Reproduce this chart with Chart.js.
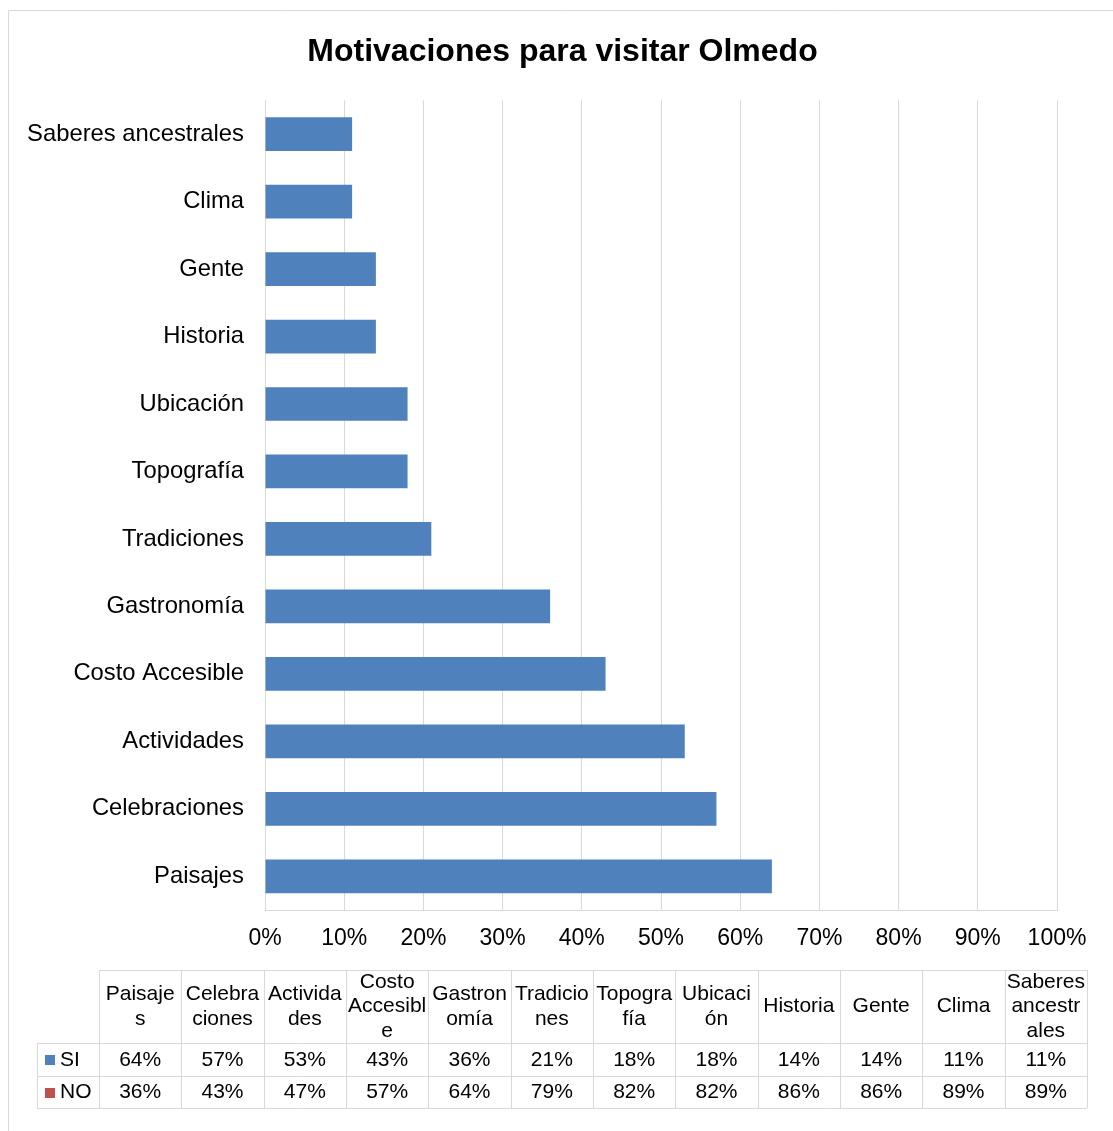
<!DOCTYPE html>
<html lang="es">
  <head>
    <meta charset="UTF-8" />
    <title>Motivaciones para visitar Olmedo</title>
    <script src="https://cdn.jsdelivr.net/npm/chart.js"></script>
    <style>
      body {
        margin: 0;
        background: #ffffff;
      }
      .chart-box {
        position: relative;
        width: 1113px;
        height: 1131px;
      }
    </style>
  </head>

  <body>
    <div class="chart-box">
      <canvas id="barChart"></canvas>
    </div>

    <script>
      // Datos del gráfico (orden de la tabla: Paisajes primero)
      const categories = [
        "Paisajes",
        "Celebraciones",
        "Actividades",
        "Costo Accesible",
        "Gastronomía",
        "Tradiciones",
        "Topografía",
        "Ubicación",
        "Historia",
        "Gente",
        "Clima",
        "Saberes ancestrales",
      ];
      // encabezados de la tabla, partidos como en Excel
      const tableHeaders = [
        ["Paisaje", "s"],
        ["Celebra", "ciones"],
        ["Activida", "des"],
        ["Costo", "Accesibl", "e"],
        ["Gastron", "omía"],
        ["Tradicio", "nes"],
        ["Topogra", "fía"],
        ["Ubicaci", "ón"],
        ["Historia"],
        ["Gente"],
        ["Clima"],
        ["Saberes", "ancestr", "ales"],
      ];
      const siValues = [64, 57, 53, 43, 36, 21, 18, 18, 14, 14, 11, 11];
      const noValues = [36, 43, 47, 57, 64, 79, 82, 82, 86, 86, 89, 89];
      const xTicks = [0, 10, 20, 30, 40, 50, 60, 70, 80, 90, 100];

      const FONT = "'Liberation Sans', Arial, sans-serif";
      const GRID = "#d9d9d9";
      const BLUE = "#4F81BD";
      const RED = "#C0504D";

      Chart.defaults.font.family = FONT;
      Chart.defaults.color = "#000000";

      // marco y tabla de datos debajo del gráfico
      const dataTable = {
        id: "dataTable",
        afterDraw(chart) {
          const ctx = chart.ctx;
          ctx.save();
          ctx.strokeStyle = GRID;
          ctx.lineWidth = 1;

          // marco exterior (solo se ven arriba e izquierda)
          ctx.beginPath();
          ctx.moveTo(8.5, 1131);
          ctx.lineTo(8.5, 10.5);
          ctx.lineTo(1113, 10.5);
          ctx.stroke();

          const left = 99,
            right = 1087,
            legLeft = 37;
          const colW = (right - left) / categories.length;
          const rows = [970, 1043, 1076, 1108];

          ctx.beginPath();
          // horizontales
          ctx.moveTo(left, rows[0] + 0.5);
          ctx.lineTo(right, rows[0] + 0.5);
          for (let r = 1; r < rows.length; r++) {
            ctx.moveTo(legLeft, rows[r] + 0.5);
            ctx.lineTo(right, rows[r] + 0.5);
          }
          // verticales
          ctx.moveTo(legLeft + 0.5, rows[1]);
          ctx.lineTo(legLeft + 0.5, rows[3]);
          for (let c = 0; c <= categories.length; c++) {
            const x = Math.round(left + c * colW) + 0.5;
            ctx.moveTo(x, rows[0]);
            ctx.lineTo(x, rows[3]);
          }
          ctx.stroke();

          ctx.fillStyle = "#000000";
          ctx.font = "21px " + FONT;
          ctx.textAlign = "center";
          ctx.textBaseline = "middle";
          const lh = 24.5;
          const headMid = (rows[0] + rows[1]) / 2;
          tableHeaders.forEach((lines, i) => {
            const cx = left + (i + 0.5) * colW;
            const y0 = headMid - ((lines.length - 1) * lh) / 2;
            lines.forEach((t, k) => ctx.fillText(t, cx, y0 + k * lh));
          });

          const series = [
            { name: "SI", color: BLUE, values: siValues },
            { name: "NO", color: RED, values: noValues },
          ];
          series.forEach((s, r) => {
            const cy = (rows[r + 1] + rows[r + 2]) / 2 + 0.5;
            ctx.fillStyle = s.color;
            ctx.fillRect(45, Math.round(cy - 5), 10, 10);
            ctx.fillStyle = "#000000";
            ctx.textAlign = "left";
            ctx.fillText(s.name, 60, cy);
            ctx.textAlign = "center";
            s.values.forEach((v, i) => {
              ctx.fillText(v + "%", left + (i + 0.5) * colW, cy);
            });
          });
          ctx.restore();
        },
      };

      const ctx = document.getElementById("barChart").getContext("2d");
      const barChart = new Chart(ctx, {
        type: "bar",
        data: {
          labels: categories,
          datasets: [
            {
              label: "SI",
              data: siValues,
              backgroundColor: BLUE,
              barPercentage: 0.5,
              categoryPercentage: 1,
            },
          ],
        },
        options: {
          indexAxis: "y",
          responsive: true,
          maintainAspectRatio: false,
          animation: false,
          layout: {
            padding: { left: 12, right: 0, top: 0, bottom: 171 },
          },
          plugins: {
            legend: { display: false },
            tooltip: { enabled: false },
            title: {
              display: true,
              text: "Motivaciones para visitar Olmedo",
              color: "#000000",
              font: { size: 32, weight: "bold" },
              padding: { top: 33, bottom: 29 },
            },
          },
          scales: {
            x: {
              min: 0,
              max: 100,
              afterBuildTicks: (scale) => {
                scale.ticks = xTicks.map((v) => ({ value: v }));
              },
              afterFit: (scale) => {
                scale.height = 50;
              },
              ticks: {
                callback: (v) => v + "%",
                font: { size: 23 },
                color: "#000000",
                padding: 15,
              },
              grid: { color: GRID, drawTicks: false },
              border: { color: GRID },
            },
            y: {
              reverse: true,
              afterFit: (scale) => {
                scale.width = 253;
              },
              ticks: {
                font: { size: 23.8 },
                color: "#000000",
                padding: 21,
              },
              grid: { display: false, drawTicks: false },
              border: { color: GRID },
            },
            // margen derecho vacío para que el título quede centrado como en el original
            spacer: {
              type: "linear",
              position: "right",
              display: true,
              afterFit: (scale) => {
                scale.width = 56;
              },
              ticks: { display: false },
              grid: { display: false, drawTicks: false },
              border: { display: false },
            },
          },
        },
        plugins: [dataTable],
      });
    </script>
  </body>
</html>
